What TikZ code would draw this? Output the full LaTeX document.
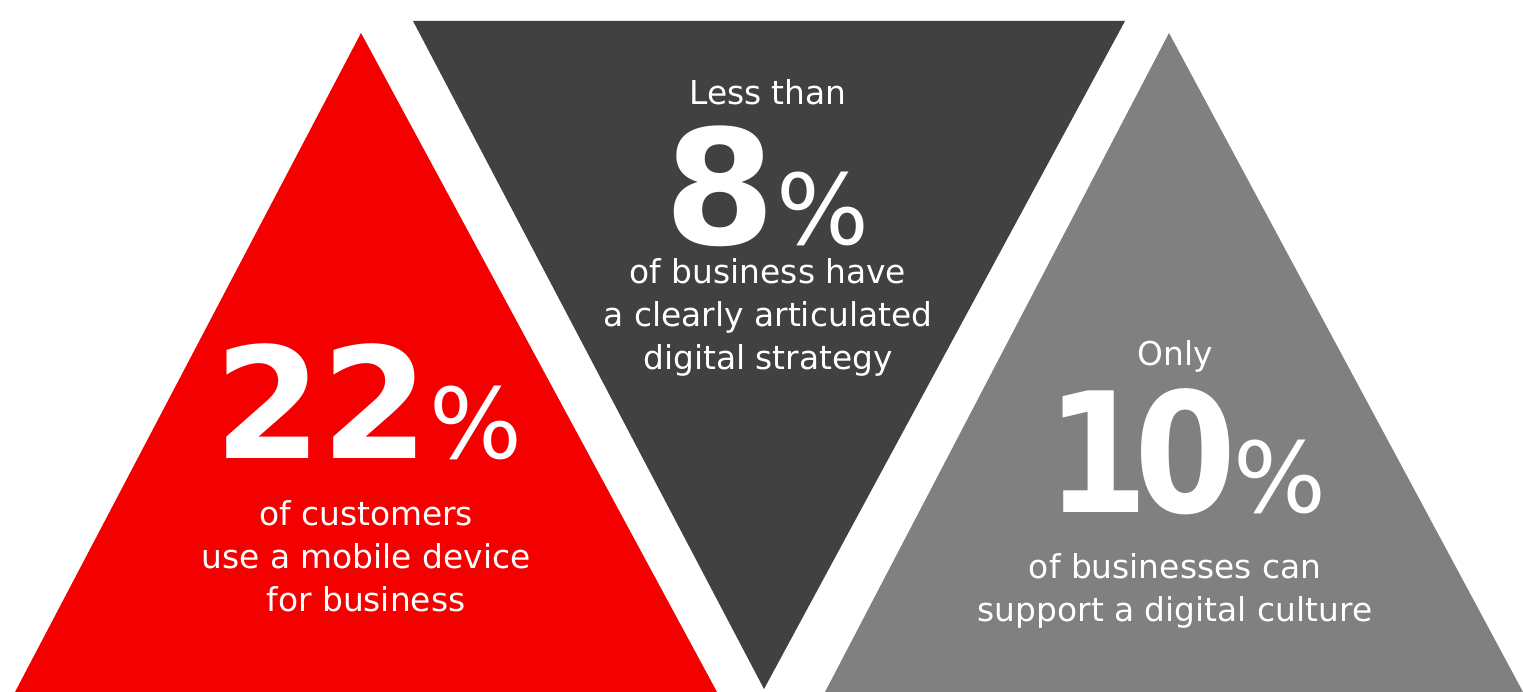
\documentclass[tikz,border=0pt]{standalone}
\usepackage{fontspec}
\setmainfont{DejaVu Sans}
\definecolor{kred}{RGB}{245,0,0}
\definecolor{kdark}{RGB}{65,65,65}
\definecolor{kgray}{RGB}{128,128,128}
\tikzset{
  lead/.style={text=white,inner sep=0pt,anchor=base,
    font=\fontsize{18.7}{24.4}\selectfont},
  caption/.style={lead,align=center},
  bignum/.style={text=white,inner sep=0pt,anchor=base,text depth=0pt}
}
\newcommand{\pct}{{\fontsize{55.6}{60}\selectfont\mdseries\%}}
\begin{document}
\begin{tikzpicture}[x=0.02cm,y=-0.02cm]
  \useasboundingbox (0,0) rectangle (1523,692);
  % the three triangles
  \fill[kred] (15,692) -- (361,33) -- (717,692) -- cycle;
  \fill[kdark] (413,21) -- (1125,21) -- (764,689) -- cycle;
  \fill[kgray] (825,692) -- (1169,33) -- (1523,692) -- cycle;
  % left (caption base = last line)
  \node[bignum,font=\fontsize{88}{90}\selectfont\bfseries] (n22) at (368,458) {22\pct};
  \node[caption] (c22) at (366,611)
    {of customers\\use a mobile device\\for business};
  % middle
  \node[bignum,font=\fontsize{91}{93}\selectfont\bfseries] (n8) at (767,245) {8\pct};
  \node[lead] (l8) at (768,105) {Less than};
  \node[caption] (c8) at (768,369)
    {of business have\\a clearly articulated\\digital strategy};
  % right
  \node[bignum,font=\fontsize{95}{97}\selectfont\bfseries] (n10) at (1186,512)
    {\scalebox{0.88}[1]{1\kern-9pt0}\kern-2pt\pct};
  \node[lead] (l10) at (1175,365) {Only};
  \node[caption] (c10) at (1175,621)
    {of businesses can\\support a digital culture};
\end{tikzpicture}
\end{document}
